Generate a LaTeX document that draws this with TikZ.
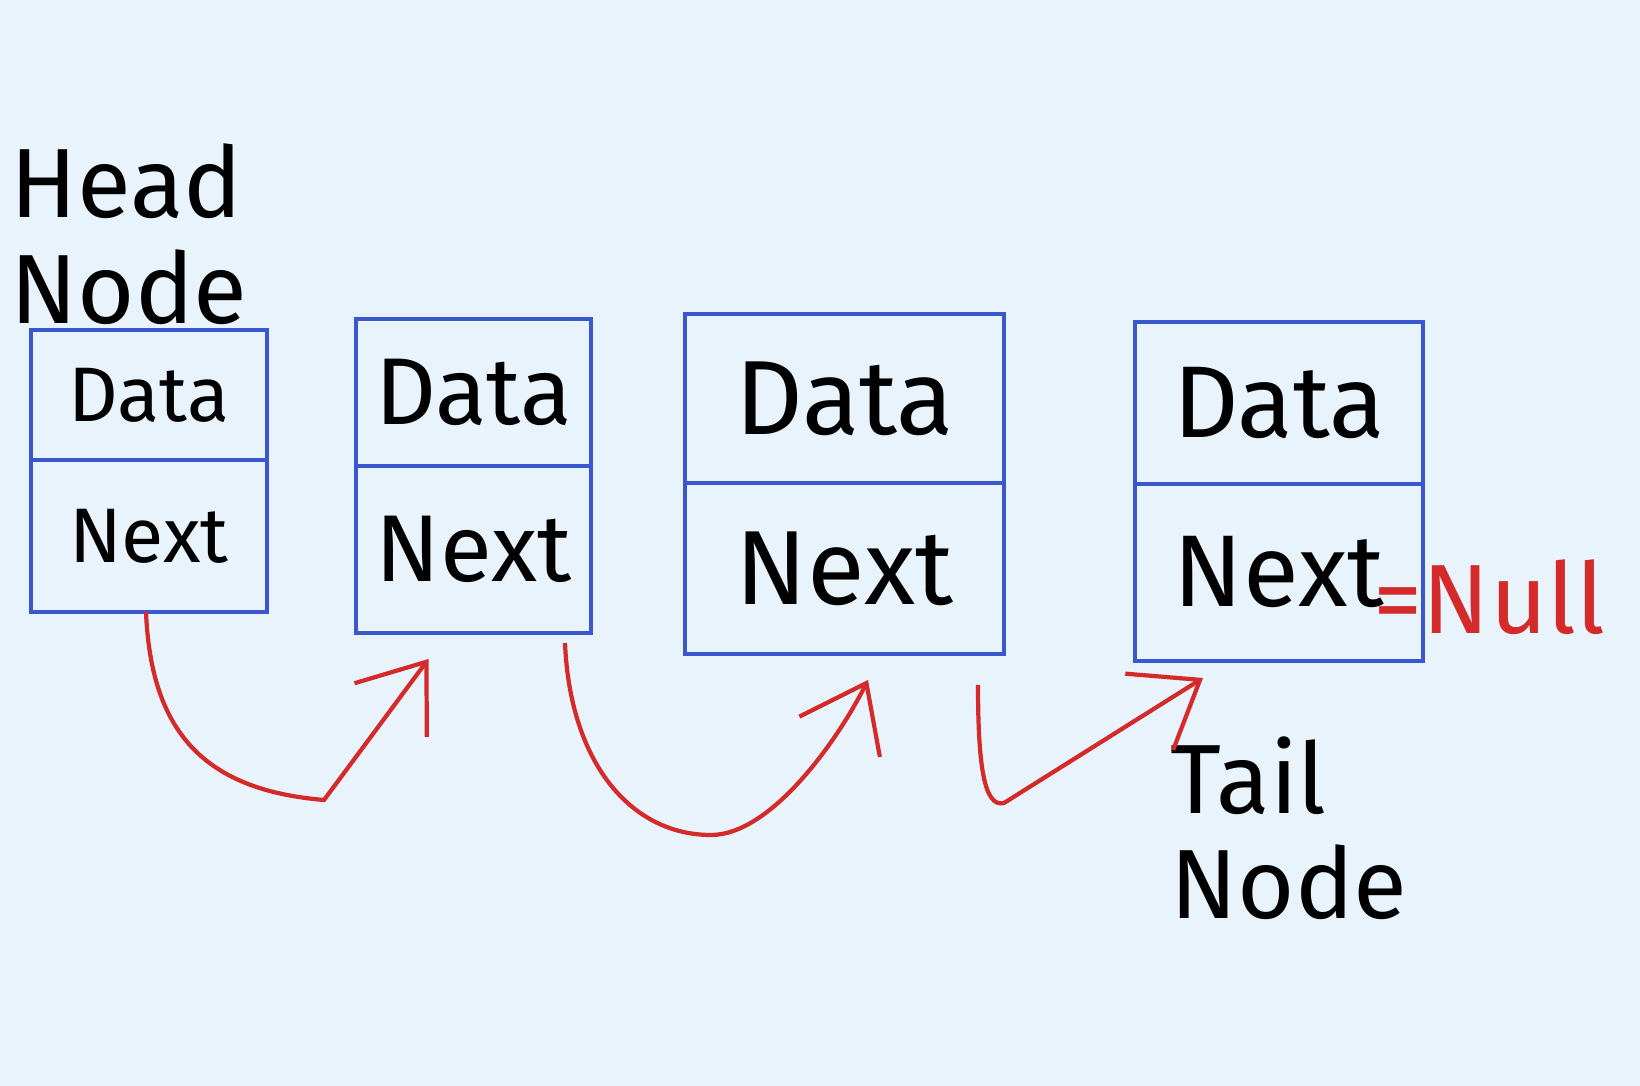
\documentclass[tikz,border=0pt]{standalone}
\usepackage{fontspec}
\setmainfont{Fira Sans}
\usepackage{tikz}
\usetikzlibrary{arrows.meta,positioning}
\definecolor{paper}{HTML}{E8F3FC}
\definecolor{penblue}{HTML}{3A57D0}
\definecolor{penred}{HTML}{D42A2A}
\tikzset{
  cell/.style={rectangle, draw=penblue, line width=1pt, outer sep=0pt, inner sep=0pt, text=black},
  lbl/.style={font=\fontsize{28}{30}\selectfont, align=left, inner sep=0pt},
  nulllbl/.style={font=\fontsize{28}{28}\selectfont, text=penred, inner sep=0pt},
  link/.style={-{Straight Barb[length=6mm,width=9mm,line width=1.2pt]}, draw=penred, line width=1.2pt}
}

\begin{document}
\begin{tikzpicture}
  \fill[paper] (0,0) rectangle (16.4,10.86);
  \useasboundingbox (0,0) rectangle (16.4,10.86);
  % list nodes: index / centre x / top y / width / data height / next height / font size
  \foreach \i/\x/\t/\w/\hd/\hn/\fs in {1/1.49/7.56/2.36/1.30/1.52/22,
                                       2/4.735/7.67/2.35/1.47/1.67/27,
                                       3/8.445/7.72/3.19/1.69/1.71/30,
                                       4/12.79/7.64/2.88/1.62/1.77/29} {
    \node[cell, anchor=north, minimum width=\w cm, minimum height=\hd cm,
          font=\fontsize{\fs}{\fs}\selectfont] (d\i) at (\x,\t) {Data};
    \node[cell, below=0pt of d\i, minimum width=\w cm, minimum height=\hn cm,
          font=\fontsize{\fs}{\fs}\selectfont] (n\i) {Next};
  }
  \node[lbl, above=0.05cm of d1, xshift=-0.2cm] (head) {Head\\Node};
  \node[lbl, below=0.75cm of n4, xshift=0.1cm] (tail) {Tail\\Node};
  \node[nulllbl, right=-0.5cm of n4, yshift=-0.25cm] (null) {=Null};
  % next pointers
  \draw[link] ([xshift=-0.03cm]n1.south) .. controls +(0.05,-1.2) and +(-1.2,0.1) .. ++(1.78,-1.88)
    -- ([xshift=-0.45cm,yshift=-0.26cm]n2.south);
  \draw[link] ([xshift=-0.26cm,yshift=-0.1cm]n2.south east) .. controls +(0.05,-1.2) and +(-0.8,0) .. ++(1.46,-1.92)
    .. controls +(0.6,0) and +(-0.3,-0.6) .. ([xshift=0.235cm,yshift=-0.26cm]n3.south);
  \draw[link] ([xshift=-0.26cm,yshift=-0.31cm]n3.south east) .. controls +(0,-0.8) and +(-0.2,-0.05) .. ++(0.26,-1.18)
    -- ([xshift=-0.76cm,yshift=-0.17cm]n4.south);
\end{tikzpicture}
\end{document}
